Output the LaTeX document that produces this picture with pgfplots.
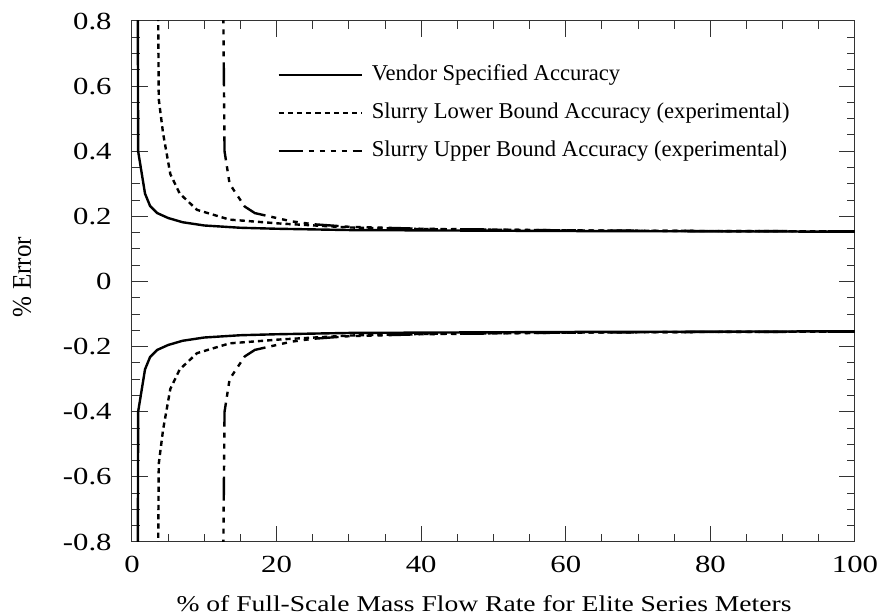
\documentclass[border=0pt]{standalone}
\usepackage{fontspec}
\setmainfont{Liberation Serif}
\newfontfamily\tickfont[FakeStretch=1.25]{Liberation Serif}
\newfontfamily\labfont[FakeStretch=1.22]{Liberation Serif}
\newfontfamily\ylabfont[FakeStretch=0.93]{Liberation Serif}
\usepackage{pgfplots}
\usepackage{pgfplotstable}
\pgfplotsset{compat=1.18}

% upper half of each band; lower half is the mirror image
\pgfplotstableread{
x y
0.80 0.90
0.85 0.40
1.8 0.27
2.5 0.232
3.5 0.210
5 0.195
7 0.182
10 0.172
15 0.165
20 0.162
30 0.158
40 0.157
60 0.155
80 0.154
100 0.153
}\vendor

\pgfplotstableread{
x y
3.6 0.90
3.7 0.56
4.3 0.455
5.3 0.33
6.6 0.27
9 0.22
13.5 0.19
20.5 0.178
30 0.166
40 0.161
60 0.157
80 0.155
100 0.154
}\lowerb

\pgfplotstableread{
x y
12.6 0.90
12.8 0.40
13.5 0.30
15.6 0.23
17 0.21
20 0.195
22 0.185
25 0.176
30 0.168
40 0.162
60 0.157
80 0.155
100 0.154
}\upperb

\begin{document}
\begin{tikzpicture}
\begin{axis}[
  name=ax,
  scale only axis,
  width=361.5pt, height=260.5pt,
  xmin=0, xmax=100, ymin=-0.8, ymax=0.8,
  axis line style={line width=0.5pt, black!80},
  tick style={line width=0.5pt, black!80},
  tick align=inside,
  xtick pos=both, ytick pos=both,
  major tick length=8pt, minor tick length=4pt,
  xtick={0,20,...,100},
  xticklabels={0,20,40,60,80,100},
  minor x tick num=3,
  ytick={-0.8,-0.6,...,0.81},
  yticklabels={-0.8,-0.6,-0.4,-0.2,0,0.2,0.4,0.6,0.8},
  minor y tick num=3,
  ticklabel style={font=\tickfont\fontsize{12.3}{14}\selectfont, inner sep=0pt},
  xticklabel style={yshift=-7pt},
  yticklabel style={xshift=-10pt},
  xlabel={\% of Full-Scale Mass Flow Rate for Elite Series Meters},
  ylabel={\% Error},
  xlabel style={font=\labfont\fontsize{11.3}{13}\selectfont, inner sep=0pt,
    at={(rel axis cs:0.5,0)}, anchor=base, xshift=-4.75pt, yshift=-35pt},
  ylabel style={font=\ylabfont\fontsize{13.5}{15}\selectfont, inner sep=0pt,
    at={(rel axis cs:0,0.5)}, anchor=base, xshift=2.25pt, yshift=50.5pt},
  legend cell align=left,
  legend style={draw=none, fill=none, at={(0.2005,0.9175)}, anchor=north west,
    font=\fontsize{11.3}{13}\selectfont, row sep=8.5pt, column sep=4.5pt, inner sep=0pt,
    nodes={inner sep=0pt, text height=8pt, text depth=2.5pt}},
  legend image code/.code={\draw[#1] (0pt,0pt) -- (41.5pt,0pt);},
]
\addplot[black, line width=1.2pt] table {\vendor};
\addlegendentry{Vendor Specified Accuracy}
\addplot[black, line width=1.2pt, dash pattern=on 2.6pt off 2pt] table {\lowerb};
\addlegendentry{Slurry Lower Bound Accuracy (experimental)}
\addplot[black, line width=1.2pt, dash pattern=on 12pt off 3pt on 2.5pt off 3pt on 2.5pt off 3pt on 2.5pt off 3pt on 2.5pt off 3pt] table {\upperb};
\addlegendentry{Slurry Upper Bound Accuracy (experimental)}
\addplot[black, line width=1.2pt, forget plot] table[y expr=-\thisrow{y}] {\vendor};
\addplot[black, line width=1.2pt, dash pattern=on 2.6pt off 2pt, forget plot] table[y expr=-\thisrow{y}] {\lowerb};
\addplot[black, line width=1.2pt, dash pattern=on 12pt off 3pt on 2.5pt off 3pt on 2.5pt off 3pt on 2.5pt off 3pt on 2.5pt off 3pt, forget plot] table[y expr=-\thisrow{y}] {\upperb};
\end{axis}
\pgfresetboundingbox
\path ([shift={(-66pt,-37pt)}]ax.south west) rectangle ([shift={(12.5pt,10.5pt)}]ax.north east);
\end{tikzpicture}
\end{document}
